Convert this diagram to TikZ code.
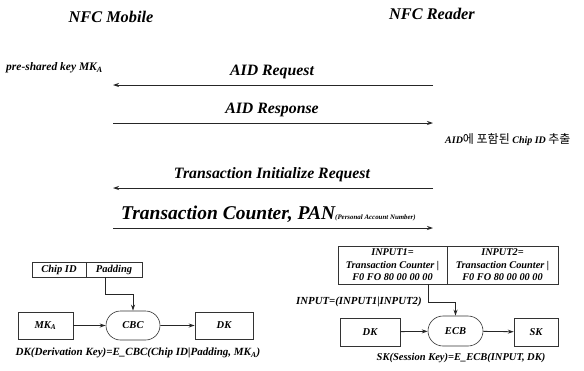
\documentclass[tikz,border=0pt]{standalone}
\usepackage{fontspec}
\setmainfont{Liberation Serif}
\newfontfamily\kr{Noto Sans CJK KR}
\usetikzlibrary{arrows.meta,shapes.misc}
\tikzset{
  arr/.style={draw=black!85, line width=0.8pt, -{Stealth[length=6pt,width=4pt]}},
  box/.style={draw=black!80, line width=0.6pt, rectangle, inner sep=0pt, font=\bfseries\itshape\fontsize{10.5}{12}\selectfont},
  rbox/.style={draw=black!80, line width=0.6pt, rounded rectangle, inner sep=0pt, font=\bfseries\itshape\fontsize{10.5}{12}\selectfont},
  ttl/.style={font=\bfseries\itshape\fontsize{16.3}{18}\selectfont, inner sep=0pt},
  msg/.style={font=\bfseries\itshape\fontsize{15.8}{18}\selectfont, inner sep=0pt},
  small/.style={font=\bfseries\itshape\fontsize{10.8}{12}\selectfont, inner sep=0pt},
}
\begin{document}
\begin{tikzpicture}[x=1pt,y=-1pt]
\useasboundingbox (0,0) rectangle (584,370);
\fill[white] (0,0) rectangle (584,370);
% titles
\node[ttl] (mob) at (111,17) {NFC Mobile};
\node[ttl] (rdr) at (432,14) {NFC Reader};
\node[small, font=\bfseries\itshape\fontsize{11.5}{13}\selectfont, anchor=west] (psk) at (6,68) {pre-shared key MK\textsubscript{A}};
% lifeline points
\coordinate (m1) at (113,85);  \coordinate (r1) at (433,85);
\coordinate (m2) at (113,123); \coordinate (r2) at (433,123);
\coordinate (m3) at (113,188); \coordinate (r3) at (433,188);
\coordinate (m4) at (113,228); \coordinate (r4) at (433,228);
\draw[arr] (r1) -- (m1);
\draw[arr] (m2) -- (r2);
\draw[arr] (r3) -- (m3);
\draw[arr] (m4) -- (r4);
\node[msg] (l1) at (272,72) {AID Request};
\node[msg] (l2) at (272,110) {AID Response};
\node[msg] (l3) at (272,175) {Transaction Initialize Request};
\node[msg, font=\bfseries\itshape\fontsize{19.5}{22}\selectfont, anchor=base west] (l4) at (121,219) {Transaction Counter, PAN\fontsize{6.9}{8}\selectfont(Personal Account Number)};
\node[small, font=\bfseries\itshape\fontsize{10}{11}\selectfont, anchor=west] (chip) at (445,140) {AID{\kr\mdseries\upshape\fontsize{12}{13}\selectfont 에 포함된} Chip ID {\kr\mdseries\upshape\fontsize{12}{13}\selectfont 추출}};
% bottom left
\node[box, minimum width=54, minimum height=15] (cid) at (59,269.5) {Chip ID};
\node[box, minimum width=56, minimum height=15] (pad) at (114,269.5) {Padding};
\node[box, minimum width=55, minimum height=27] (mka) at (45.5,325.5) {MK\textsubscript{A}};
\node[rbox, minimum width=54, minimum height=29] (cbc) at (133,325.5) {CBC};
\node[box, minimum width=58, minimum height=27] (dk1) at (224,325.5) {DK};
\draw[arr] ([xshift=-9pt]pad.south) -- ++(0,17) -| (cbc.north);
\draw[arr] (mka) -- (cbc);
\draw[arr] (cbc) -- (dk1);
\node[small, font=\bfseries\itshape\fontsize{11}{12}\selectfont] (f1) at (138,353) {DK(Derivation Key)=E\_CBC(Chip ID|Padding, MK\textsubscript{A})};
% bottom right
\node[box, font=\bfseries\itshape\fontsize{10.3}{12.5}\selectfont, minimum width=109, minimum height=38, align=center] (in1) at (392.5,265) {INPUT1=\\Transaction Counter |\\F0 FO 80 00 00 00};
\node[box, font=\bfseries\itshape\fontsize{10.3}{12.5}\selectfont, minimum width=111, minimum height=38, align=center] (in2) at (502.5,265) {INPUT2=\\Transaction Counter |\\F0 FO 80 00 00 00};
\node[box, minimum width=60, minimum height=28] (dk2) at (370,332) {DK};
\node[rbox, minimum width=55, minimum height=30] (ecb) at (455.5,331) {ECB};
\node[box, minimum width=44, minimum height=28] (sk) at (536,332) {SK};
\draw[arr] ([xshift=35.5pt]in1.south) -- ++(0,18) -| (ecb.north);
\draw[arr] (dk2) -- (ecb);
\draw[arr] (ecb) -- (sk);
\node[small, anchor=west] (inp) at (296,302) {INPUT=(INPUT1|INPUT2)};
\node[small, font=\bfseries\itshape\fontsize{10.5}{12}\selectfont] (f2) at (461,358) {SK(Session Key)=E\_ECB(INPUT, DK)};
\end{tikzpicture}
\end{document}
